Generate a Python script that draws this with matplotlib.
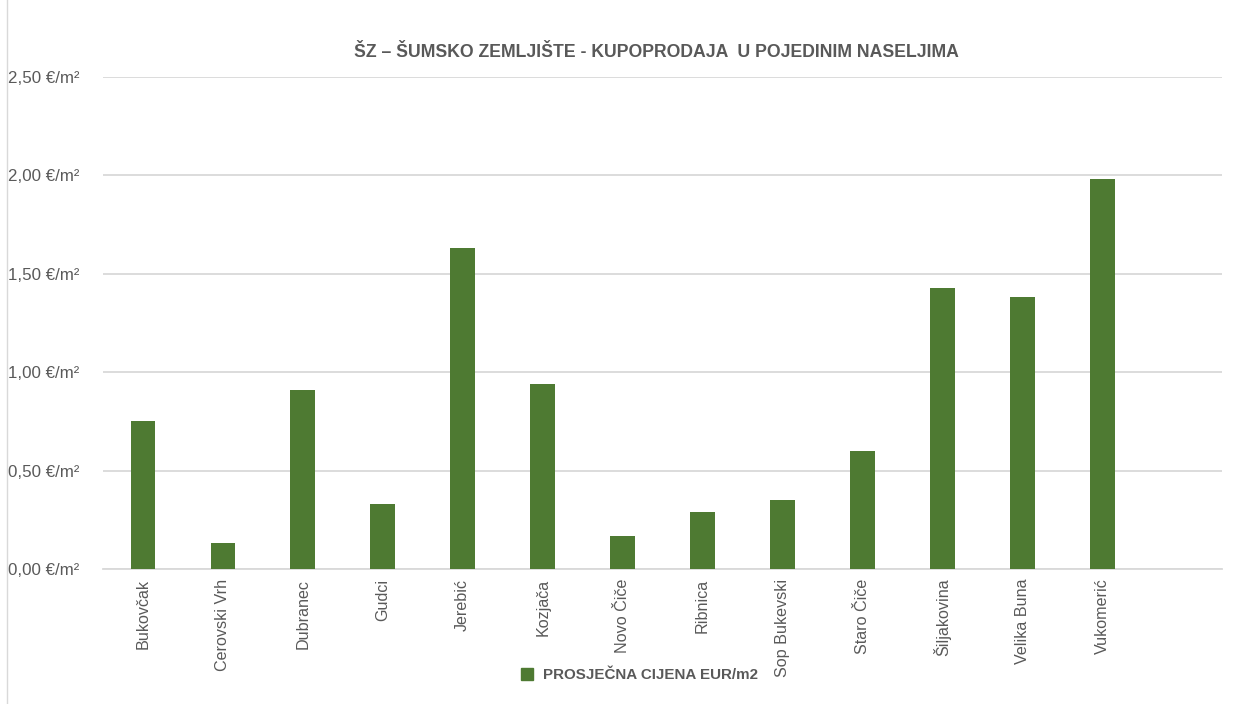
import matplotlib
matplotlib.use('Agg')
import matplotlib.pyplot as plt
from matplotlib.ticker import FuncFormatter
from matplotlib.lines import Line2D

naselja = ['Bukovčak', 'Cerovski Vrh', 'Dubranec', 'Gudci', 'Jerebić', 'Kozjača',
           'Novo Čiče', 'Ribnica', 'Sop Bukevski', 'Staro Čiče', 'Šiljakovina',
           'Velika Buna', 'Vukomerić']
cijene = [0.75, 0.13, 0.91, 0.33, 1.63, 0.94, 0.17, 0.29, 0.35, 0.60, 1.43, 1.38, 1.98]
y_ticks = [0.0, 0.5, 1.0, 1.5, 2.0, 2.5]

naslov = 'ŠZ – ŠUMSKO ZEMLJIŠTE - KUPOPRODAJA  U POJEDINIM NASELJIMA'
legenda = 'PROSJEČNA CIJENA EUR/m2'

zelena = '#4e7a32'
siva = '#595959'

plt.rcParams['font.family'] = ['Liberation Sans', 'DejaVu Sans']

fig = plt.figure(figsize=(12.52, 7.04), dpi=100)
ax = fig.add_axes([0.0823, 0.1918, 0.8938, 0.6988])

x = list(range(len(naselja)))
ax.bar(x, cijene, width=0.31, color=zelena, zorder=3)

ax.set_xlim(-0.5, len(naselja) + 0.5)
ax.set_ylim(0, 2.5)
ax.set_yticks(y_ticks)
ax.yaxis.set_major_formatter(FuncFormatter(lambda v, p: ('%.2f' % v).replace('.', ',') + ' €/m²'))
ax.set_xticks(x)
ax.set_xticklabels(naselja, rotation=90)

ax.grid(axis='y', color='#d9d9d9', linewidth=1.3, zorder=0)
for s in ['top', 'right', 'left']:
    ax.spines[s].set_visible(False)
ax.spines['bottom'].set_color('#d9d9d9')
ax.spines['bottom'].set_linewidth(1.3)
ax.tick_params(axis='both', length=0, colors=siva)
ax.tick_params(axis='y', pad=17, labelsize=12.2)
ax.tick_params(axis='x', pad=7, labelsize=11.6)

fig.text(0.524, 0.925, naslov, ha='center', va='center', fontsize=12.7,
         fontweight='bold', color=siva)

h = Line2D([], [], marker='s', linestyle='none', markersize=8, color=zelena)
fig.legend([h], [legenda], loc='center', bbox_to_anchor=(0.507, 0.041), frameon=False,
           prop={'weight': 'bold', 'size': 10.9}, labelcolor=siva,
           handletextpad=0.1)

fig.add_artist(Line2D([0.0056, 0.0056], [0, 1], color='#d9d9d9', linewidth=1,
                      transform=fig.transFigure))

fig.savefig('out.png', dpi=100)
